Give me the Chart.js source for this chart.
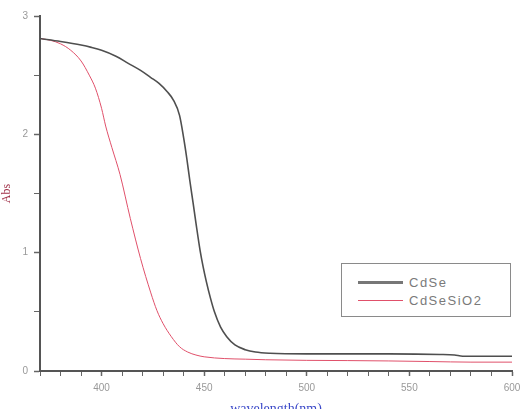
<!DOCTYPE html>
<html><head><meta charset="utf-8">
<script src="https://cdn.jsdelivr.net/npm/chart.js@4"></script>
<style>
html,body{margin:0;padding:0;background:#fff;}
#wrap{position:relative;width:528px;height:409px;overflow:hidden;}
#legend{position:absolute;left:341px;top:263px;width:168px;height:52px;border:1.5px solid #8a8a8a;background:#fff;font-family:"Liberation Sans",Arial,sans-serif;font-size:13px;color:#7a7a7a;letter-spacing:1.5px;}
.row{position:absolute;left:16px;height:16px;display:flex;align-items:center;}
.sw{width:45px;margin-right:6px;}
</style></head>
<body><div id="wrap"><canvas id="c" width="528" height="409"></canvas><div id="legend"></div></div>
<script>
const seriesNames = ["CdSe", "CdSeSiO2"];
const wlCdSe = [370,380,390,395,400,407,413,419,424,428,432,435,438,440,441.5,443,444.6,446,448,449.5,451,453,455,458,461,465,470,475,482,500,540,565,572,576,600];
const absCdSe = [2.81,2.785,2.755,2.735,2.71,2.66,2.60,2.54,2.48,2.43,2.36,2.29,2.16,1.97,1.80,1.61,1.42,1.25,1.02,0.88,0.76,0.62,0.50,0.37,0.29,0.22,0.18,0.16,0.15,0.145,0.145,0.14,0.135,0.125,0.125];
const wlSiO2 = [370,375,380,385,390,394,397,400,402,405,409,414,419,424,427,430,434,438,442,446,450,460,470,480,500,520,540,560,580,600];
const absSiO2 = [2.81,2.795,2.765,2.71,2.62,2.5,2.39,2.22,2.07,1.89,1.66,1.29,0.95,0.66,0.51,0.40,0.29,0.205,0.16,0.135,0.12,0.105,0.1,0.095,0.09,0.088,0.085,0.08,0.075,0.075];
const xLabels = [400,450,500,550,600];
const yLabels = [0,1,2,3];

const colors = ["#4f4f4f", "#e0506a"];
const widths = [1.6, 1];

const toPts = (xs, ys) => xs.map((x, i) => ({x: x, y: ys[i]}));

const chart = new Chart(document.getElementById('c'), {
  type: 'line',
  data: {
    datasets: [
      {label: seriesNames[0], data: toPts(wlCdSe, absCdSe), borderColor: colors[0], borderWidth: widths[0], pointRadius: 0, cubicInterpolationMode: 'monotone', fill: false},
      {label: seriesNames[1], data: toPts(wlSiO2, absSiO2), borderColor: colors[1], borderWidth: widths[1], pointRadius: 0, cubicInterpolationMode: 'monotone', fill: false}
    ]
  },
  options: {
    responsive: false,
    animation: false,
    devicePixelRatio: 1,
    layout: {padding: {left: 0, right: 16, top: 16, bottom: 0}},
    plugins: {legend: {display: false}, tooltip: {enabled: false}},
    scales: {
      x: {
        type: 'linear', min: 370, max: 600,
        border: {display: true, color: '#555', width: 2},
        grid: {drawOnChartArea: false, drawTicks: true, tickLength: 5,
               tickColor: '#666', tickWidth: (ctx) => (xLabels.includes(ctx.tick && ctx.tick.value) ? 1.5 : 1)},
        ticks: {stepSize: 10, autoSkip: false, maxRotation: 0, padding: 6,
                color: '#999', font: {family: 'Liberation Sans', size: 10},
                callback: (v) => (xLabels.includes(v) ? String(v) : '')},
        title: {display: true, text: 'wavelength(nm)', color: '#3a48c8',
                font: {family: 'Liberation Serif', size: 14}, padding: {top: 2, bottom: -9}},
        afterFit: (s) => { s.height = 38; }
      },
      y: {
        type: 'linear', min: 0, max: 3,
        border: {display: true, color: '#555', width: 2},
        grid: {drawOnChartArea: false, drawTicks: true, tickLength: 6,
               tickColor: '#666', tickWidth: (ctx) => (yLabels.includes(ctx.tick && ctx.tick.value) ? 1.5 : 1)},
        ticks: {stepSize: 0.5, autoSkip: false, padding: 6,
                color: '#999', font: {family: 'Liberation Sans', size: 10},
                callback: (v) => (yLabels.includes(v) ? String(v) : '')},
        title: {display: true, text: 'Abs', color: '#a03048',
                font: {family: 'Liberation Serif', size: 12}, padding: {top: 0, bottom: 4}},
        afterFit: (s) => { s.width = 40; }
      }
    }
  }
});

const lg = document.getElementById('legend');
seriesNames.forEach((name, i) => {
  const row = document.createElement('div');
  row.className = 'row';
  row.style.top = (i === 0 ? 10 : 28) + 'px';
  const sw = document.createElement('div');
  sw.className = 'sw';
  sw.style.borderTop = (i === 0 ? 3 : 1) + 'px solid ' + (i === 0 ? '#777' : colors[1]);
  const t = document.createElement('span');
  t.textContent = name;
  row.appendChild(sw); row.appendChild(t);
  lg.appendChild(row);
});
</script></body></html>
